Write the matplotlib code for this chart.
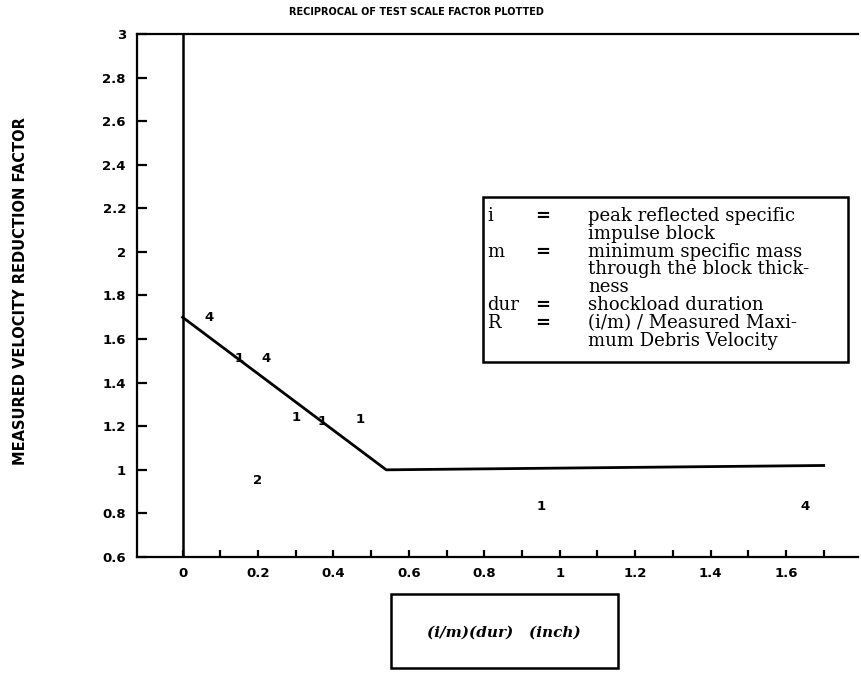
import matplotlib
matplotlib.use("Agg")
import matplotlib.pyplot as plt
from matplotlib.patches import Rectangle

# ---- data ----
point_x = [0.07, 0.15, 0.22, 0.30, 0.37, 0.47, 0.20, 0.95, 1.65]
point_y = [1.70, 1.51, 1.51, 1.24, 1.22, 1.23, 0.95, 0.83, 0.83]
point_labels = ['4', '1', '4', '1', '1', '1', '2', '1', '4']

fit_x = [0.0, 0.54, 1.70]
fit_y = [1.70, 1.00, 1.02]

x_ticks = [0.0, 0.2, 0.4, 0.6, 0.8, 1.0, 1.2, 1.4, 1.6]
x_tick_labels = ['0', '0.2', '0.4', '0.6', '0.8', '1', '1.2', '1.4', '1.6']
x_minor = [0.1, 0.3, 0.5, 0.7, 0.9, 1.1, 1.3, 1.5, 1.7]
y_ticks = [0.6, 0.8, 1.0, 1.2, 1.4, 1.6, 1.8, 2.0, 2.2, 2.4, 2.6, 2.8, 3.0]
y_tick_labels = ['0.6', '0.8', '1', '1.2', '1.4', '1.6', '1.8', '2', '2.2', '2.4', '2.6', '2.8', '3']

title = "RECIPROCAL OF TEST SCALE FACTOR PLOTTED"
ylabel = "MEASURED VELOCITY REDUCTION FACTOR"
xlabel = "(i/m)(dur)   (inch)"
legend_rows = [
    ("i", "=", "peak reflected specific"),
    ("", "", "impulse block"),
    ("m", "=", "minimum specific mass"),
    ("", "", "through the block thick-"),
    ("", "", "ness"),
    ("dur", "=", "shockload duration"),
    ("R", "=", "(i/m) / Measured Maxi-"),
    ("", "", "mum Debris Velocity"),
]

W, H = 861, 673
fig = plt.figure(figsize=(W / 100, H / 100), dpi=100)

def fx(px):
    return px / W

def fy(py):
    return 1 - py / H

ax = fig.add_axes([fx(137), fy(557), fx(858) - fx(137), fy(34) - fy(557)])
ax.set_xlim(-0.121, 1.791)
ax.set_ylim(0.6, 3.0)

for s in ['left', 'top', 'bottom']:
    ax.spines[s].set_linewidth(1.6)
ax.spines['right'].set_visible(False)

ax.axvline(0, color='black', lw=1.8)
ax.plot(fit_x, fit_y, color='black', lw=2.0)

for x, y, t in zip(point_x, point_y, point_labels):
    ax.text(x, y, t, ha='center', va='center', fontsize=9.5,
            fontweight='bold', family='DejaVu Sans')

ax.set_xticks(x_ticks)
ax.set_xticklabels(x_tick_labels)
ax.set_xticks(x_minor, minor=True)
ax.set_yticks(y_ticks)
ax.set_yticklabels(y_tick_labels)
ax.tick_params(axis='x', which='both', direction='in', length=5, width=1.6, pad=7)
ax.tick_params(axis='y', direction='in', length=7, width=1.6, pad=8)
ax.tick_params(right=False, top=False)
for lab in ax.get_xticklabels() + ax.get_yticklabels():
    lab.set_fontweight('bold')
    lab.set_fontsize(9.5)
    lab.set_family('DejaVu Sans')

fig.text(fx(416), fy(12), title, ha='center', va='center', fontsize=7,
         fontweight='heavy', family='DejaVu Sans')
fig.text(fx(21), fy(291), ylabel, ha='center', va='center', rotation=90,
         fontsize=10.5, fontweight='bold', family='DejaVu Sans')

# legend box
fig.patches.append(Rectangle((fx(483), fy(362)), fx(848) - fx(483), fy(197) - fy(362),
                             transform=fig.transFigure, fill=False, lw=1.8,
                             edgecolor='black'))
y0 = 216
dy = 17.8
for k, (a, b, c) in enumerate(legend_rows):
    yy = fy(y0 + k * dy)
    if a:
        fig.text(fx(487), yy, a, ha='left', va='center', fontsize=13,
                 family='DejaVu Serif')
    if b:
        fig.text(fx(535), yy, b, ha='left', va='center', fontsize=13,
                 family='DejaVu Serif', fontweight='bold')
    fig.text(fx(588), yy, c, ha='left', va='center', fontsize=13,
             family='DejaVu Serif')

# x label box
fig.patches.append(Rectangle((fx(391), fy(668)), fx(618) - fx(391), fy(594) - fy(668),
                             transform=fig.transFigure, fill=False, lw=1.8,
                             edgecolor='black'))
fig.text(fx(504), fy(633), xlabel, ha='center', va='center',
         fontsize=11, family='DejaVu Serif', fontweight='bold', style='italic')

fig.savefig("out.png", dpi=100, facecolor='white')
